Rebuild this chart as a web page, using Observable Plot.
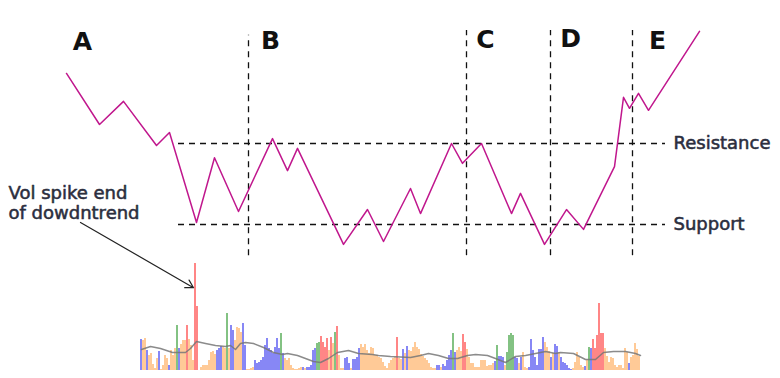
<!DOCTYPE html>
<html>
<head>
<meta charset="utf-8">
<script src="https://cdn.jsdelivr.net/npm/d3@7"></script>
<script src="https://cdn.jsdelivr.net/npm/@observablehq/plot@0.6"></script>
<style>
  html, body { margin: 0; padding: 0; background: #fff; }
  #wrap { position: relative; width: 780px; height: 378px; overflow: hidden; }
  #wrap svg { position: absolute; left: 0; top: 0; background: transparent; }
</style>
</head>
<body>
<div id="wrap"></div>
<script>
// ---- Price path (time in bar units, price in arbitrary units) ----
const priceT = [-37,-20.5,-8.5,8,14.5,28,37,49,66,73.5,78.5,101.5,113.5,121.5,135,140,155.5,161,170.5,185.5,190,202,213,221.5,237,241.5,244.5,249,254,279.5];
const priceV = [137.3,124.7,130.4,119.5,122.7,100.5,116.5,103.2,121.2,113.3,118.8,95.1,103.7,95.8,108.9,102.7,120,115.1,120,102.7,107.7,95.1,103.7,98.8,114.3,131.4,128.7,132.4,128.2,147.7];

// ---- Support / resistance levels ----
const levelNames = ["Resistance", "Support"];
const levelValues = [120, 100];
const levelStart = 19, levelEnd = 262.5, levelLabelT = 266.5;

// ---- Phase dividers and labels ----
const dividerT = [54, 163, 205, 246];
const dividerTop = [146.7, 147.9, 147.9, 147.9];
const dividerBottom = 92.3;
const phaseLabels = ["A", "B", "C", "D", "E"];
const phaseT = [-29, 65, 172.5, 215, 258.5];
const phaseY = [145, 145.4, 145.6, 145.9, 145.4];

// ---- Annotation ----
const noteText = "Vol spike end\nof dowdntrend";
const noteT = -66, noteY = 105.4;
const arrowFrom = [-30, 100.5];
const arrowTo = [26.5, 84.4];

// ---- Volume bars (one per period) ----
const volSeg1 = [31,30,32,20,15,17,6,2,12,19, 1,5,15,12,5,20,15,22,45,22, 26,30,30,45,31,25,10,107,64];
const catSeg1 = "boobooooob" + "oooobooogb" + "ooorooorr";
const volSeg2 = [0,3,5,5,5,10,18,19,16,20, 22,24,23,22,57,22,45,40,30,43, 42,38,47,25,1,1,2,3,10,7, 8,10,13,25,32,22,20,17,23,32, 22,37,17,12,10,12,5,2,1,1, 2,3,3];
const catSeg2 = "ooooooooob" + "bboogobboo" + "oobboooobb" + "bbbbbbbbbb" + "bgbooooooo" + "oob";
const volSeg3 = [2,3,3,5,20,22,27,28,34,28, 23,32,20,33,27,38,44,15,2,2, 12,13,7,2,11,11,13,22,26,23, 26,20,17,23,22,15,15,13,12,8, 4,2,7,10,12,13,33,12];
const catSeg3 = "obbbbbggrr" + "rrorogrooo" + "bbbobbbboo" + "oooooooooo" + "ooooooro";
const volSeg4 = [11,21,17,24,20,19,23,28,23,21, 16,14,12,10,7,3,2,2,5,5, 3,6,4,10,15,20,37,18,20,23, 19,36,28,21,13];
const catSeg4 = "oboboooooo" + "oooooooobb" + "obbbbbgboo" + "orroo";
const volSeg5 = [7,7,3,3,3,10,10,10,4,5, 5,7,9,25,14,14,13,5,18,35, 37,35,13,12,7,13,18,3,2,3, 31,20,13,5,21,21,33,28,23,19, 13,17,26,24,18];
const catSeg5 = "oooooooooo" + "oobgbbbogg" + "ggbbobooob" + "bbbbbbbooo" + "bobbo";
const volSeg6 = [13,8,7,5,2,1,2,8,18,13, 5,3,4,10,23,22,31,22,35,67, 37,37,22,14,8,13,12,5,3,5, 5,2,22,18,7,13,15,27,21,14];
const catSeg6 = "bbbbbboooo" + "oobogbrrrr" + "rroooooooo" + "oooobooooo";

// ---- Volume moving average ----
const maT = [0.5,5,10,16,22.5,25,28,32.5,37.5,42.5,45,47.5,50,52.5,56.5,61.5,66.5,71,73.5,78.5,82.5,86.5,90,94,98.5,104,109,116,119,125,135,140,144,149,154,158.5,163.5,167.5,173.5,177.5,182.5,187.5,192.5,197.5,202.5,207.5,210,216.5,222.5,227.5,231.5,236.5,242.5,247.5,250];
const maV = [21,24,22,18,18,22,29,27,25,24,25,21,27,28,27,23,18,16,17,15,12,9,8,12,18,20,17,16,15,14,13,15,17,15,12,12,15,16,15,12,8,14,15,17,19,17,18,17,11,11,18,19,19,17,15];

const catNames = ["b", "o", "g", "r"];
const catColors = ["#7171f3", "#ffc184", "#6cb76c", "#ff7070"];

// ---- Build tables ----
const price = priceT.map((t, i) => ({t, p: priceV[i]}));
const levels = levelNames.map((name, i) => ({name, v: levelValues[i]}));
const dividers = dividerT.map((t, i) => ({t, top: dividerTop[i]}));
const phases = phaseLabels.map((label, i) => ({label, t: phaseT[i], y: phaseY[i]}));
const vols = [].concat(volSeg1, volSeg2, volSeg3, volSeg4, volSeg5, volSeg6);
const cats = (catSeg1 + catSeg2 + catSeg3 + catSeg4 + catSeg5 + catSeg6).split("");
const bars = vols.map((v, i) => ({t: i + 0.5, v, c: cats[i] || "o"}));
const ma = maT.map((t, i) => ({t, v: maV[i]}));

const W = 780, H = 378;
const xDomain = [-70, 320];
const dash = "6,5";
const ink = "#2b2e3e";

const pricePlot = Plot.plot({
  width: W, height: H,
  marginTop: 0, marginRight: 0, marginBottom: 0, marginLeft: 0,
  x: {domain: xDomain, axis: null},
  y: {domain: [61.98, 155.31], axis: null},
  style: {background: "transparent", overflow: "visible"},
  marks: [
    Plot.ruleY(levels, {y: "v", x1: levelStart, x2: levelEnd, stroke: "#111", strokeWidth: 1.3, strokeDasharray: dash}),
    Plot.ruleX(dividers, {x: "t", y1: dividerBottom, y2: "top", stroke: "#111", strokeWidth: 1.3, strokeDasharray: dash}),
    Plot.line(price, {x: "t", y: "p", stroke: "#c0178d", strokeWidth: 1.5}),
    Plot.text(levels, {x: levelLabelT, y: "v", text: "name", textAnchor: "start", fontSize: 18, fontFamily: "DejaVu Sans", fill: ink, stroke: ink, strokeWidth: 0.55}),
    Plot.text(phases, {x: "t", y: "y", text: "label", fontSize: 25, fontWeight: "bold", fontFamily: "DejaVu Sans", fill: "#111"}),
    Plot.text([noteText], {x: noteT, y: noteY, text: d => d, textAnchor: "start", lineAnchor: "middle", lineHeight: 1.12, fontSize: 18, fontFamily: "DejaVu Sans", fill: ink, stroke: ink, strokeWidth: 0.55}),
    Plot.arrow([{x1: arrowFrom[0], y1: arrowFrom[1], x2: arrowTo[0], y2: arrowTo[1]}], {x1: "x1", y1: "y1", x2: "x2", y2: "y2", stroke: "#222", strokeWidth: 1.2, headLength: 11, bend: 0})
  ]
});

const volPlot = Plot.plot({
  width: W, height: H,
  marginTop: 0, marginRight: 0, marginBottom: 8, marginLeft: 0,
  x: {domain: xDomain, axis: null},
  y: {domain: [0, 370], axis: null},
  color: {domain: catNames, range: catColors},
  style: {background: "transparent"},
  marks: [
    Plot.rectY(bars, {x1: d => d.t - 0.42, x2: d => d.t + 0.42, y: "v", fill: "c"}),
    Plot.line(ma, {x: "t", y: "v", stroke: "#777", strokeOpacity: 0.85, strokeWidth: 1.5})
  ]
});

const wrap = document.getElementById("wrap");
wrap.appendChild(volPlot);
wrap.appendChild(pricePlot);
</script>
</body>
</html>
